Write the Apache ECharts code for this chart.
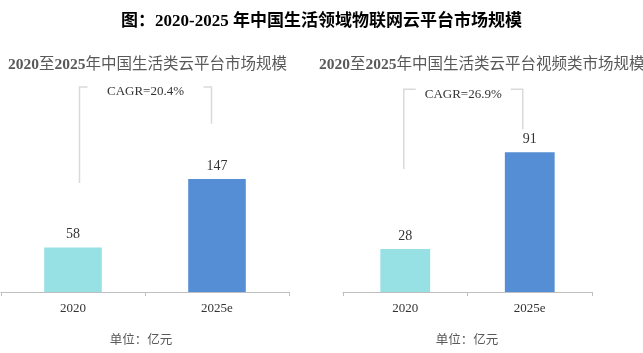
<!DOCTYPE html>
<html>
<head>
<meta charset="utf-8">
<script src="https://cdn.jsdelivr.net/npm/echarts@6/dist/echarts.min.js"></script>
<style>
  html, body { margin: 0; padding: 0; background: #fff; }
  #main { width: 643px; height: 353px; }
</style>
</head>
<body>
<div id="main"></div>
<script>
// data
var categories = ['2020', '2025e'];
var lifeCloud = [58, 147];        // 生活类云平台市场规模
var videoCloud = [28, 91];        // 生活类云平台视频类市场规模
var cagrLabels = ['CAGR=20.4%', 'CAGR=26.9%'];

var FONT = '"Liberation Serif", "Noto Sans CJK SC", serif';
var barColors = ['#97e1e5', '#558ed5'];

var chart = echarts.init(document.getElementById('main'));

// bracket over the two bars, levels in axis units
function bracket(gridIdx, text, lowL, lowR, top, offL, offR, arm) {
  return {
    type: 'custom',
    xAxisIndex: gridIdx,
    yAxisIndex: gridIdx,
    silent: true,
    z: 5,
    data: [[0, 0]],
    renderItem: function (params, api) {
      var a = api.coord([0, lowL]);
      var b = api.coord([1, lowR]);
      var yt = api.coord([0, top])[1];
      var x1 = a[0] + offL, x2 = b[0] + offR;
      var st = { stroke: '#d9d9d9', lineWidth: 1.5, fill: null };
      return {
        type: 'group',
        children: [
          { type: 'polyline', shape: { points: [[x1, a[1]], [x1, yt], [x1 + arm, yt]] }, style: st },
          { type: 'polyline', shape: { points: [[x2 - arm, yt], [x2, yt], [x2, b[1]]] }, style: st },
          { type: 'text', style: { x: (x1 + x2) / 2, y: yt + 5, text: text, align: 'center', verticalAlign: 'middle',
              fill: '#333', font: '13px ' + FONT } }
        ]
      };
    }
  };
}

function barSeries(gridIdx, values) {
  return {
    type: 'bar',
    xAxisIndex: gridIdx,
    yAxisIndex: gridIdx,
    barWidth: '40%',
    data: values.map(function (v, i) {
      return { value: v, itemStyle: { color: barColors[i] } };
    }),
    label: {
      show: true,
      position: 'top',
      distance: 6,
      color: '#333',
      fontFamily: FONT,
      fontSize: 14
    }
  };
}

function xAxis(gridIdx) {
  return {
    type: 'category',
    gridIndex: gridIdx,
    data: categories,
    axisLine: { lineStyle: { color: '#bfbfbf', width: 1 } },
    axisTick: { show: true, length: 4, lineStyle: { color: '#bfbfbf' } },
    axisLabel: { color: '#333', fontFamily: FONT, fontSize: 13, margin: 10 }
  };
}

function yAxis(gridIdx, max) {
  return {
    type: 'value',
    gridIndex: gridIdx,
    min: 0,
    max: max,
    show: false,
    splitLine: { show: false }
  };
}

// subtitle: digits bold, CJK regular
function subTitle(str, left, size) {
  var parts = str.match(/[0-9]+|[^0-9]+/g);
  var text = parts.map(function (p) {
    return (/^[0-9]/.test(p) ? '{d|' : '{c|') + p + '}';
  }).join('');
  return {
    text: text, left: left, top: 52,
    textStyle: {
      rich: {
        d: { fontFamily: FONT, fontSize: size, fontWeight: 'bold', color: '#595959' },
        c: { fontFamily: FONT, fontSize: size, fontWeight: 'normal', color: '#595959' }
      }
    }
  };
}

var option = {
  animation: false,
  backgroundColor: '#fff',
  title: [
    { text: '图：2020-2025 年中国生活领域物联网云平台市场规模', left: 'center', top: 8,
      textStyle: { fontFamily: FONT, fontSize: 17, fontWeight: 'bold', color: '#000' } },
    subTitle('2020至2025年中国生活类云平台市场规模', 3, 15.5),
    subTitle('2020至2025年中国生活类云平台视频类市场规模', 314, 15.5),
    { text: '单位：亿元', left: 136, top: 329, textAlign: 'center',
      textStyle: { fontFamily: FONT, fontSize: 12.5, fontWeight: 'normal', color: '#595959' } },
    { text: '单位：亿元', left: 462, top: 329, textAlign: 'center',
      textStyle: { fontFamily: FONT, fontSize: 12.5, fontWeight: 'normal', color: '#595959' } }
  ],
  grid: [
    { left: 1, right: 354, top: 100, bottom: 61 },
    { left: 343, right: 51, top: 100, bottom: 61 }
  ],
  xAxis: [xAxis(0), xAxis(1)],
  yAxis: [yAxis(0, 250), yAxis(1, 125)],
  series: [
    barSeries(0, lifeCloud),
    barSeries(1, videoCloud),
    bracket(0, cagrLabels[0], 142, 219, 267, 6.5, -5.5, 8),
    bracket(1, cagrLabels[1], 80, 106, 132, -1.5, -7, 12)
  ]
};

chart.setOption(option);
</script>
</body>
</html>
